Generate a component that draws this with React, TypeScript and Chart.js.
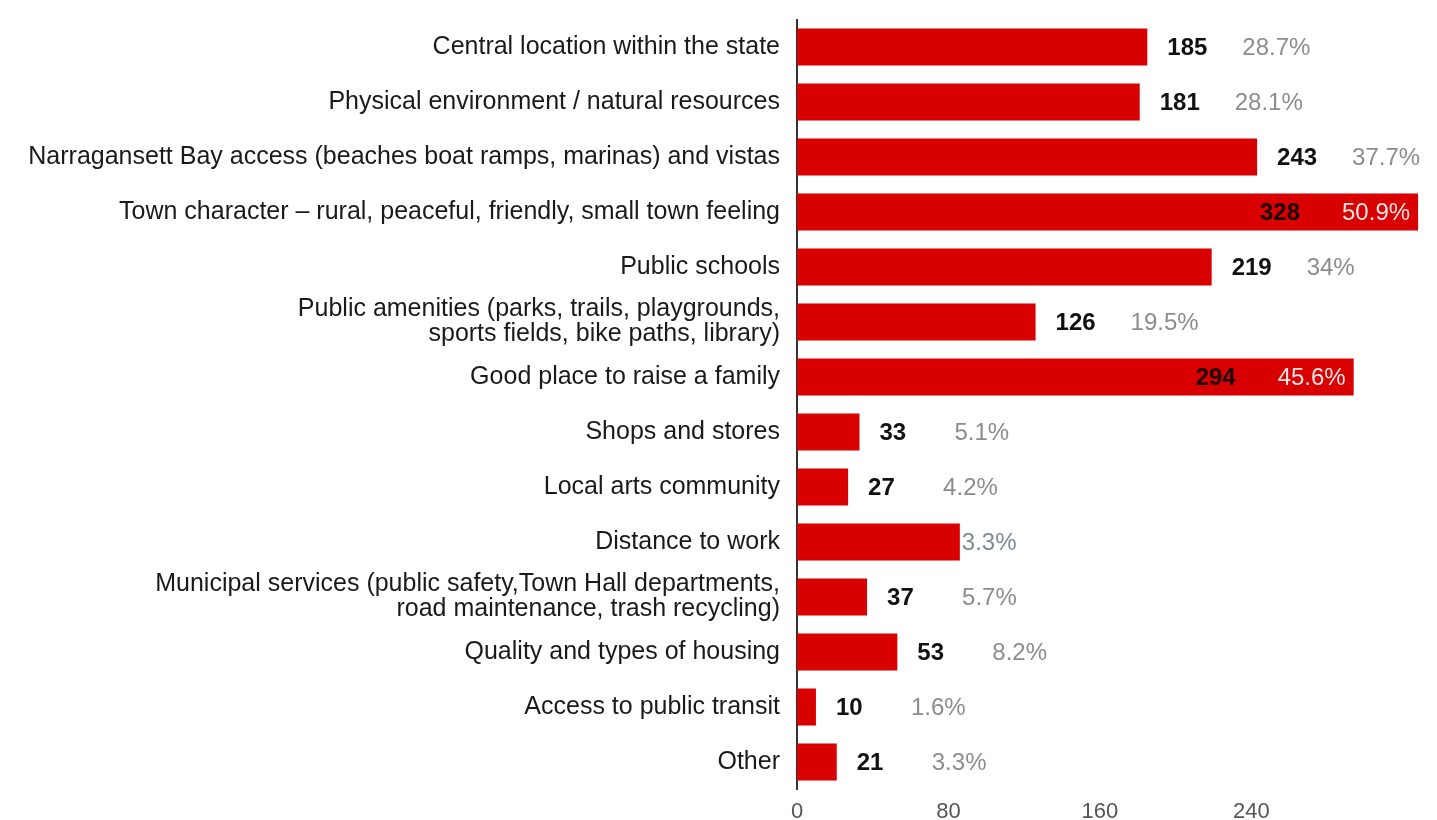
import { useEffect, useRef } from "react";
import { Chart, registerables } from "chart.js";

Chart.register(...registerables);

const categories: (string | string[])[] = [
  "Central location within the state",
  "Physical environment / natural resources",
  "Narragansett Bay access (beaches boat ramps, marinas) and vistas",
  "Town character – rural, peaceful, friendly, small town feeling",
  "Public schools",
  ["Public amenities (parks, trails, playgrounds,", "sports fields, bike paths, library)"],
  "Good place to raise a family",
  "Shops and stores",
  "Local arts community",
  "Distance to work",
  ["Municipal services (public safety,Town Hall departments,", "road maintenance, trash recycling)"],
  "Quality and types of housing",
  "Access to public transit",
  "Other",
];

const counts = [185, 181, 243, 328, 219, 126, 294, 33, 27, 86, 37, 53, 10, 21];
const percents = ["28.7%", "28.1%", "37.7%", "50.9%", "34%", "19.5%", "45.6%", "5.1%", "4.2%", "3.3%", "5.7%", "8.2%", "1.6%", "3.3%"];
const countShown = [true, true, true, true, true, true, true, true, true, false, true, true, true, true];
const xTickValues = [0, 80, 160, 240];
const xMax = 338;

const FONT = '"Liberation Sans", Arial, sans-serif';

const labelPlugin = {
  id: "barLabels",
  afterDatasetsDraw(chart: any) {
    const ctx = chart.ctx;
    const meta = chart.getDatasetMeta(0);
    meta.data.forEach((bar: any, i: number) => {
      const end = bar.x;
      const y = bar.y + 1;
      ctx.save();
      ctx.textBaseline = "middle";
      const countFont = `bold 24px ${FONT}`;
      const pctFont = `24px ${FONT}`;
      ctx.font = pctFont;
      const pw = ctx.measureText(percents[i]).width;
      if (!countShown[i]) {
        ctx.font = pctFont;
        ctx.fillStyle = "#7d8b90";
        ctx.textAlign = "left";
        ctx.fillText(percents[i], end + 2, y);
      } else if (end + 95 + pw > chart.width) {
        ctx.font = countFont;
        ctx.fillStyle = "#1a0000";
        ctx.textAlign = "right";
        ctx.fillText(String(counts[i]), end - 118, y);
        ctx.font = pctFont;
        ctx.fillStyle = "#f4e4e4";
        ctx.fillText(percents[i], end - 8, y);
      } else {
        ctx.font = countFont;
        ctx.fillStyle = "#111111";
        ctx.textAlign = "left";
        ctx.fillText(String(counts[i]), end + 20, y);
        ctx.font = pctFont;
        ctx.fillStyle = "#8c8c8c";
        ctx.fillText(percents[i], end + 95, y);
      }
      ctx.restore();
    });
  },
};

export default function App() {
  const ref = useRef<HTMLCanvasElement | null>(null);
  useEffect(() => {
    if (!ref.current) return;
    const chart = new Chart(ref.current, {
      type: "bar",
      data: {
        labels: categories,
        datasets: [
          {
            data: counts,
            backgroundColor: "#d80000",
            borderWidth: 0,
            categoryPercentage: 0.67,
            barPercentage: 1,
          },
        ],
      },
      options: {
        indexAxis: "y",
        animation: false,
        responsive: true,
        maintainAspectRatio: false,
        layout: { padding: { top: 19.5, right: 0, bottom: 0, left: 0 } },
        plugins: {
          legend: { display: false },
          tooltip: { enabled: false },
        },
        scales: {
          x: {
            min: 0,
            max: xMax,
            grid: { display: false, drawTicks: false },
            border: { display: false },
            afterBuildTicks(scale: any) {
              scale.ticks = xTickValues.map((v) => ({ value: v }));
            },
            afterFit(scale: any) {
              scale.height = 30.5;
              scale.paddingLeft = 0;
              scale.paddingRight = 0;
            },
            ticks: {
              padding: 9,
              color: "#555555",
              font: { family: FONT, size: 22 },
              maxRotation: 0,
            },
          },
          y: {
            grid: { display: false, drawTicks: false },
            border: { display: true, color: "#333333", width: 2 },
            afterFit(scale: any) {
              scale.width = 797;
              scale.paddingTop = 0;
              scale.paddingBottom = 0;
            },
            ticks: {
              padding: 17,
              color: "#1a1a1a",
              font: { family: FONT, size: 25, lineHeight: 1.0 },
              autoSkip: false,
            },
          },
        },
      },
      plugins: [labelPlugin],
    });
    return () => chart.destroy();
  }, []);
  return (
    <div style={{ position: "fixed", left: 0, top: 0, width: 1437, height: 820, background: "#ffffff" }}>
      <canvas ref={ref} />
    </div>
  );
}
